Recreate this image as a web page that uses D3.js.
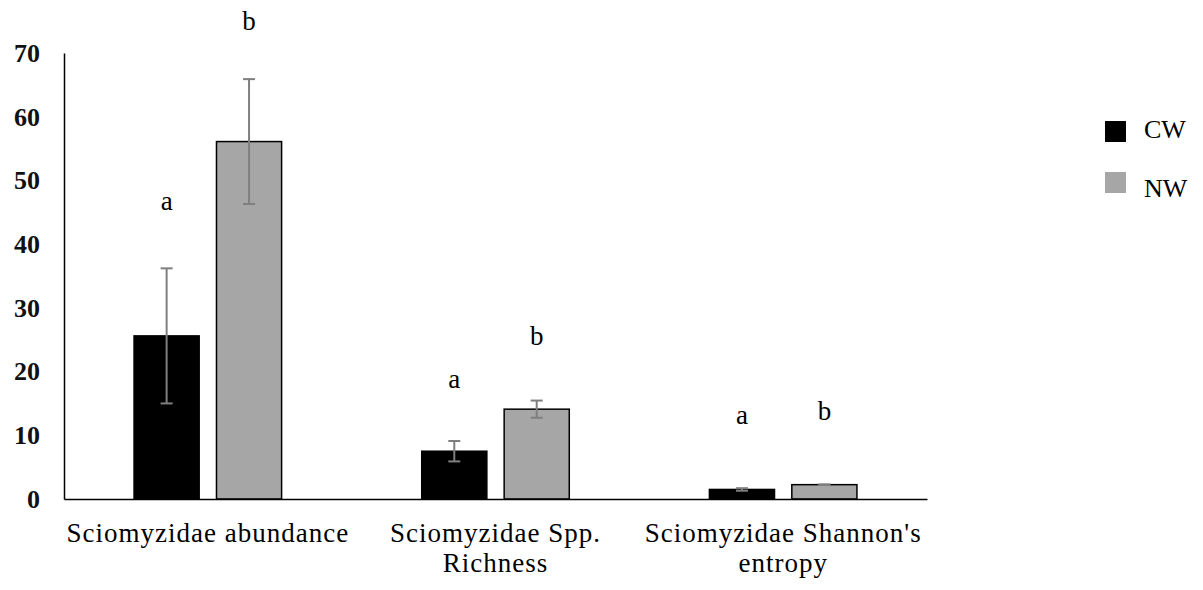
<!DOCTYPE html>
<html><head><meta charset="utf-8">
<script src="https://cdn.jsdelivr.net/npm/d3@7"></script>
<style>body{margin:0;background:#fff}</style>
</head><body>
<svg id="chart" width="1203" height="590"></svg>
<script>
const categories = ["Sciomyzidae abundance", "Sciomyzidae Spp.|Richness", "Sciomyzidae Shannon's|entropy"];
const seriesNames = ["CW", "NW"];
const cwValues = [25.6, 7.5, 1.5];
const cwErrors = [10.6, 1.6, 0.2];
const nwValues = [56.1, 14.1, 2.25];
const nwErrors = [9.8, 1.35, 0.05];
const cwLetters = ["a", "a", "a"];
const nwLetters = ["b", "b", "b"];
const cwLetterY = [45.4, 17.4, 11.8];
const nwLetterY = [73.6, 24.2, 12.4];
const yTicks = [0, 10, 20, 30, 40, 50, 60, 70];
const colors = {CW: "#000000", NW: "#a6a6a6"};
const FONT = '"Liberation Serif","Times New Roman",Times,serif';

const svg = d3.select("#chart");
const x = d3.scaleBand().domain(categories).range([64, 927]);
const xi = d3.scaleBand().domain(seriesNames).range([0, x.bandwidth()]).paddingInner(0.21).paddingOuter(0.85);
const y = d3.scaleLinear().domain([0, 70]).range([499, 53]);

const rows = [];
categories.forEach((c, i) => {
  rows.push({cat: c, s: "CW", v: cwValues[i], e: cwErrors[i], l: cwLetters[i], ly: cwLetterY[i]});
  rows.push({cat: c, s: "NW", v: nwValues[i], e: nwErrors[i], l: nwLetters[i], ly: nwLetterY[i]});
});

// y axis
const yAxis = d3.axisLeft(y).tickValues(yTicks).tickSize(0).tickPadding(24).tickFormat(d3.format("d"));
const gy = svg.append("g").attr("transform", "translate(64,0)").call(yAxis);
gy.attr("font-family", null).attr("font-size", null);
gy.select(".domain").attr("stroke", "#000").attr("stroke-width", 1.5);
gy.selectAll("text").style("font-family", FONT).attr("font-size", 26).attr("font-weight", "bold").attr("fill", "#111");

// bars
svg.append("g").selectAll("rect").data(rows).join("rect")
  .attr("x", d => x(d.cat) + xi(d.s))
  .attr("y", d => y(d.v))
  .attr("width", xi.bandwidth())
  .attr("height", d => y(0) - y(d.v))
  .attr("fill", d => colors[d.s])
  .attr("stroke", "#000").attr("stroke-width", 1.5);

// error bars
const eg = svg.append("g").attr("stroke", "#7f7f7f").attr("stroke-width", 2);
rows.forEach(d => {
  const cx = x(d.cat) + xi(d.s) + xi.bandwidth() / 2;
  eg.append("line").attr("x1", cx).attr("x2", cx).attr("y1", y(d.v + d.e)).attr("y2", y(d.v - d.e));
  eg.append("line").attr("x1", cx - 6).attr("x2", cx + 6).attr("y1", y(d.v + d.e)).attr("y2", y(d.v + d.e));
  eg.append("line").attr("x1", cx - 6).attr("x2", cx + 6).attr("y1", y(d.v - d.e)).attr("y2", y(d.v - d.e));
});

// x axis
const xAxis = d3.axisBottom(x).tickSize(0).tickFormat("");
const gx = svg.append("g").attr("transform", "translate(0,499)").call(xAxis);
gx.select(".domain").attr("stroke", "#000").attr("stroke-width", 1.5);

// category labels
categories.forEach(c => {
  const lines = c.split("|");
  const t = svg.append("text").attr("x", x(c) + x.bandwidth() / 2).attr("y", 542)
    .attr("text-anchor", "middle").style("font-family", FONT).attr("font-size", 27)
    .attr("letter-spacing", 1.0).attr("fill", "#000");
  lines.forEach((ln, i) => t.append("tspan").attr("x", x(c) + x.bandwidth() / 2).attr("dy", i === 0 ? 0 : 30).text(ln));
});

// letters
svg.append("g").selectAll("text").data(rows).join("text")
  .attr("x", d => x(d.cat) + xi(d.s) + xi.bandwidth() / 2)
  .attr("y", d => y(d.ly))
  .attr("text-anchor", "middle").style("font-family", FONT).attr("font-size", 27).attr("fill", "#000")
  .text(d => d.l);

// legend
const lg = svg.append("g");
seriesNames.forEach((s, i) => {
  lg.append("rect").attr("x", 1105).attr("y", 121 + i * 51).attr("width", 21).attr("height", 21).attr("fill", colors[s]);
  lg.append("text").attr("x", 1144).attr("y", 138 + i * 59).style("font-family", FONT).attr("font-size", 26).attr("fill", "#000").text(s);
});
</script>
</body></html>
